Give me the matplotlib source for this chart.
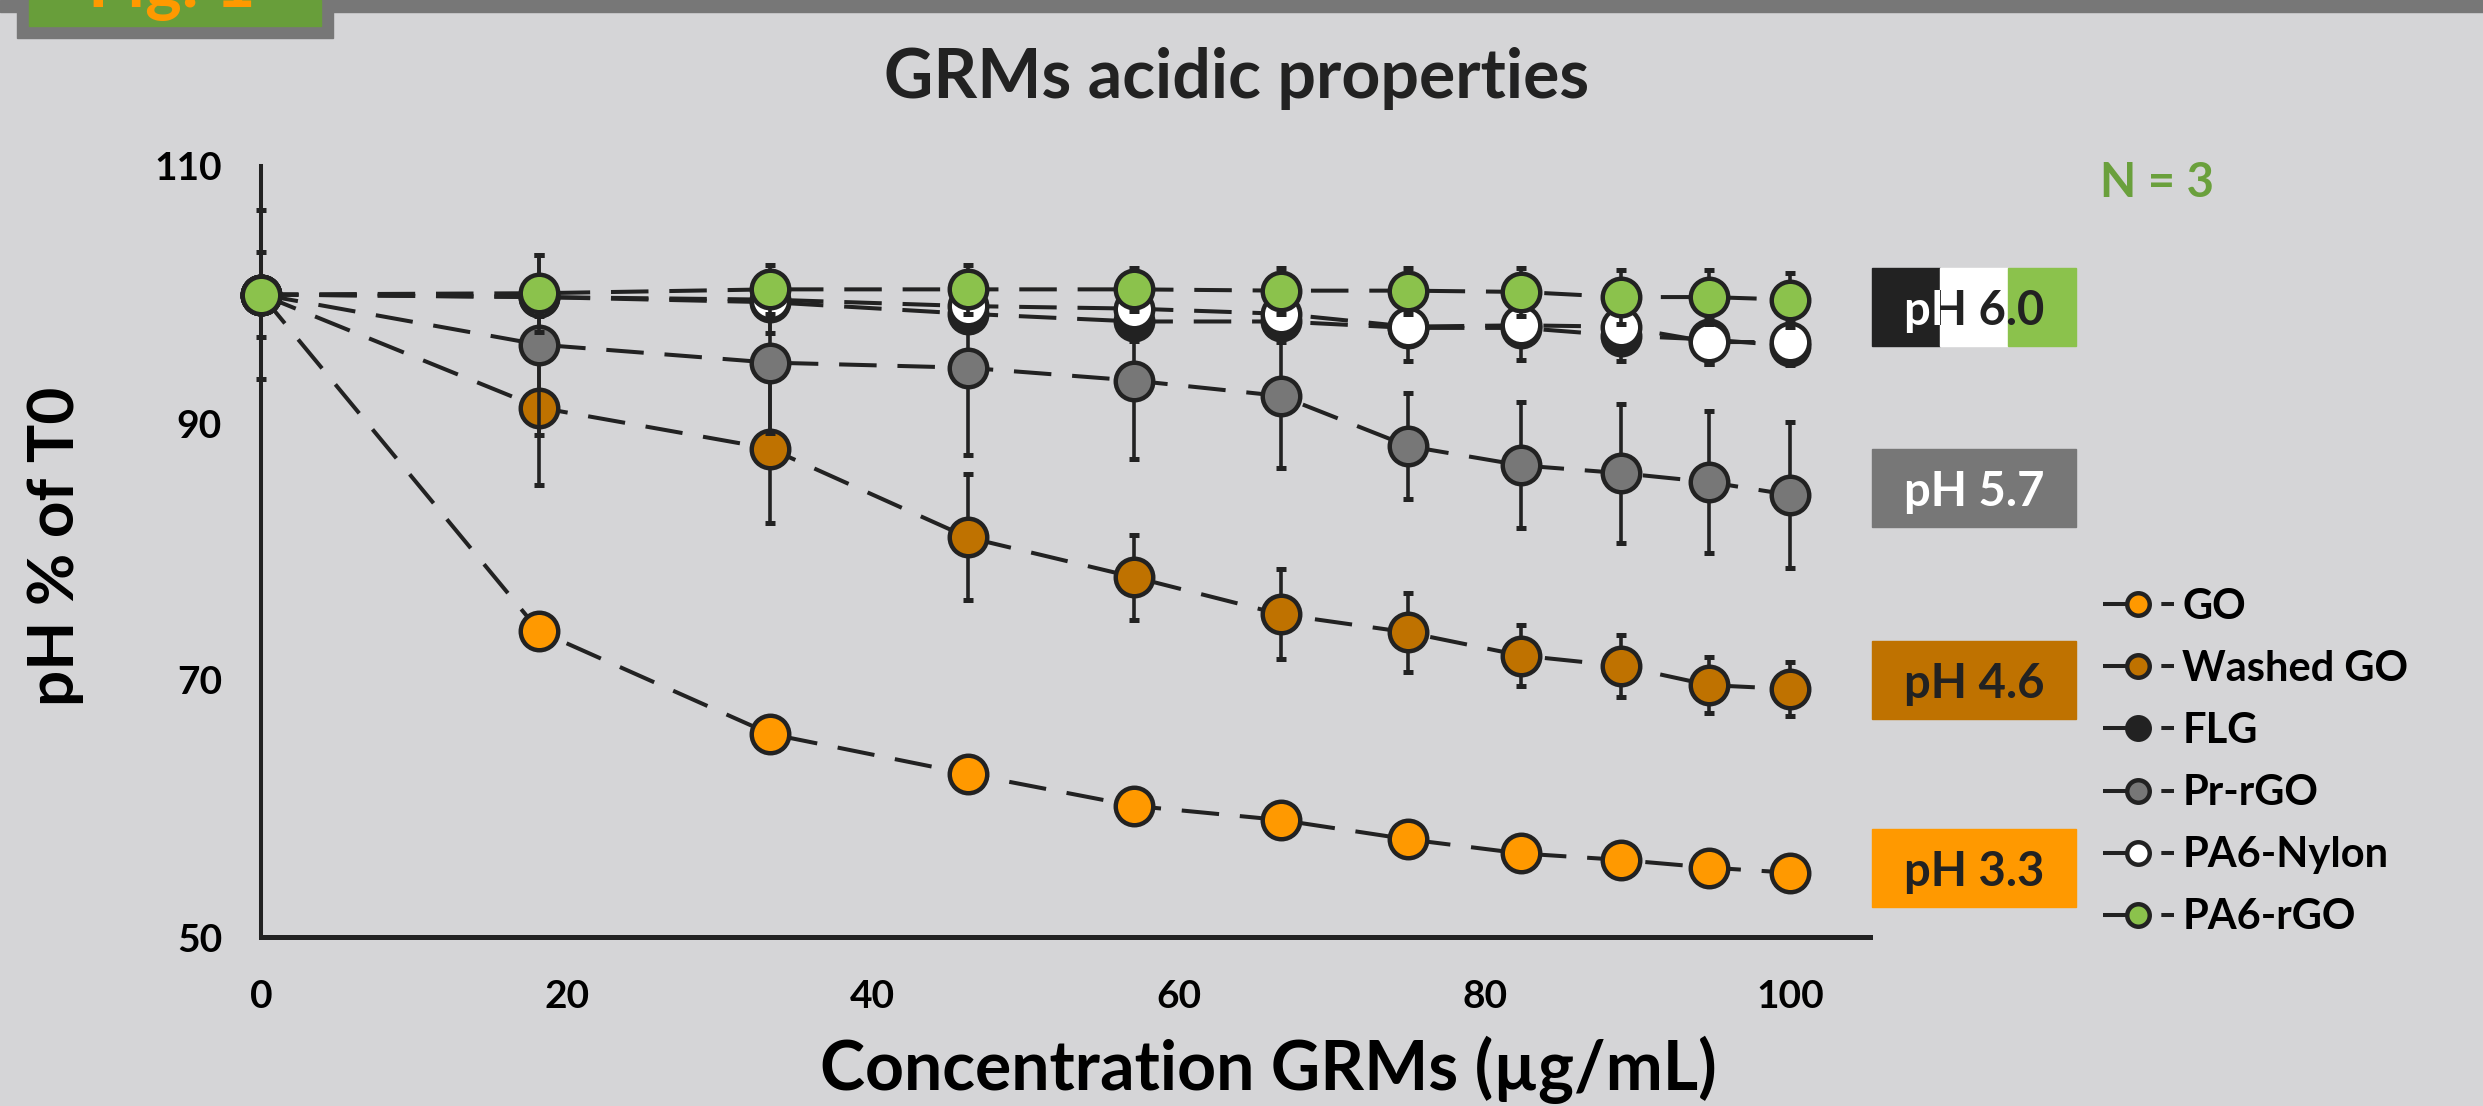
import matplotlib
matplotlib.use("Agg")
import matplotlib.pyplot as plt
from matplotlib.patches import Rectangle

plt.rcParams['font.family'] = ['Lato', 'DejaVu Sans']
plt.rcParams['lines.scale_dashes'] = False

W, H = 2483, 1106

# concentration (ug/mL) and pH as % of T0
conc = [0, 18.2, 33.3, 46.2, 57.1, 66.7, 75.0, 82.4, 88.9, 94.7, 100]

go = [100, 73.8, 65.8, 62.7, 60.2, 59.1, 57.6, 56.5, 56.0, 55.4, 55.0]
washed_go = [100, 91.2, 88.0, 81.1, 78.0, 75.1, 73.7, 71.9, 71.1, 69.6, 69.3]
flg = [100, 99.8, 99.4, 98.5, 97.9, 97.9, 97.4, 97.4, 96.8, 96.5, 96.0]
pr_rgo = [100, 96.1, 94.7, 94.3, 93.3, 92.1, 88.2, 86.7, 86.1, 85.4, 84.4]
pa6_nylon = [100, 99.8, 99.6, 99.1, 98.9, 98.5, 97.5, 97.6, 97.5, 96.3, 96.3]
pa6_rgo = [100, 100.1, 100.4, 100.4, 100.4, 100.3, 100.3, 100.2, 99.8, 99.8, 99.6]

go_err = [0, 0.8, 0.8, 0.7, 0.6, 0.6, 0.6, 0.5, 0.5, 0.5, 0.5]
washed_go_err = [3.3, 6.0, 5.8, 4.9, 3.3, 3.5, 3.1, 2.4, 2.4, 2.2, 2.1]
flg_err = [0, 1.5, 2.4, 1.4, 1.5, 1.6, 2.6, 2.5, 2.0, 1.9, 1.5]
pr_rgo_err = [6.6, 7.0, 5.5, 6.8, 6.1, 5.6, 4.1, 4.9, 5.4, 5.5, 5.7]
pa6_nylon_err = [0, 1.0, 1.0, 1.2, 1.0, 1.5, 1.5, 1.2, 1.3, 1.7, 1.6]
pa6_rgo_err = [0, 3.0, 1.9, 1.9, 1.7, 1.8, 1.8, 1.9, 2.1, 2.1, 2.1]

names = ['GO', 'Washed GO', 'FLG', 'Pr-rGO', 'PA6-Nylon', 'PA6-rGO']
series = [go, washed_go, flg, pr_rgo, pa6_nylon, pa6_rgo]
errors = [go_err, washed_go_err, flg_err, pr_rgo_err, pa6_nylon_err, pa6_rgo_err]
colors = ['#ff9900', '#bf7200', '#222222', '#777777', '#ffffff', '#8bc24c']

ph_labels = ['pH 6.0', 'pH 5.7', 'pH 4.6', 'pH 3.3']

bg = '#d5d5d7'
ink = '#222222'


def fx(x):
    return x / W


def fy(y):
    return 1 - y / H


fig = plt.figure(figsize=(W / 100, H / 100), dpi=100, facecolor=bg)

# header band and the cropped figure tag
fig.patches.append(Rectangle((0, fy(12)), 1, 12 / H, transform=fig.transFigure,
                             color='#777777', zorder=0))
fig.patches.append(Rectangle((fx(17), fy(38)), 316 / W, 38 / H, transform=fig.transFigure,
                             color='#777777', zorder=1))
fig.patches.append(Rectangle((fx(29), fy(26)), 292 / W, 26 / H, transform=fig.transFigure,
                             color='#689e3a', zorder=2))
fig.text(fx(172), fy(7), 'Fig. 1', color='#ff9900', fontsize=50, fontweight='bold',
         ha='center', va='baseline', zorder=3)

ax = fig.add_axes([fx(261), fy(937), (1870 - 261) / W, (937 - 166) / H])
ax.set_facecolor('none')
ax.set_xlim(0, 105.2)
ax.set_ylim(50, 110)
for s in ['top', 'right']:
    ax.spines[s].set_visible(False)
ax.spines['left'].set_linewidth(2.9)
ax.spines['bottom'].set_linewidth(3.6)
ax.spines['left'].set_color(ink)
ax.spines['bottom'].set_color(ink)
ax.set_xticks([0, 20, 40, 60, 80, 100])
ax.set_yticks([50, 70, 90, 110])
ax.tick_params(axis='x', length=0, pad=30, labelsize=28)
ax.tick_params(axis='y', length=0, pad=28, labelsize=28)
for lab in ax.get_xticklabels() + ax.get_yticklabels():
    lab.set_fontweight('bold')

handles = []
for i, (name, ys, err, c) in enumerate(zip(names, series, errors, colors)):
    ax.errorbar(conc, ys, yerr=err, fmt='none', ecolor=ink, elinewidth=2.6,
                capsize=3.6, capthick=3.6, zorder=2 + 2 * i, clip_on=False)
    ln, = ax.plot(conc, ys, color=ink, lw=2.9, linestyle=(0, (27, 15)),
                  marker='o', ms=27, mfc=c, mec=ink, mew=3.2,
                  zorder=3 + 2 * i, clip_on=False, label=name)
    handles.append(ln)

leg = fig.legend(handles=handles, loc='center left',
                 bbox_to_anchor=(fx(2103), fy(762)), frameon=False,
                 fontsize=30, markerscale=0.6, handlelength=1.7,
                 handletextpad=0.2, labelspacing=0.58, borderpad=0,
                 borderaxespad=0)
for t in leg.get_texts():
    t.set_fontweight('bold')

fig.text(fx(1237), fy(98), 'GRMs acidic properties', fontsize=49, fontweight='bold',
         color=ink, ha='center', va='baseline')
fig.text(fx(1268), fy(1090), 'Concentration GRMs (µg/mL)', fontsize=49,
         fontweight='bold', color='black', ha='center', va='baseline')
fig.text(fx(74), fy(546), 'pH % of T0', fontsize=46, fontweight='bold', color='black',
         rotation=90, rotation_mode='anchor', ha='center', va='baseline')
fig.text(fx(2157), fy(197), 'N = 3', fontsize=34, fontweight='bold', color='#6aa03c',
         ha='center', va='baseline')

# pH boxes
x0, x1 = 1872, 2076
box_w = x1 - x0
tops = [268, 449, 641, 829]
box_colors = ['#777777', '#bf7200', '#ff9900']
text_colors = ['white', ink, ink]
for lab, top, bc, tc in zip(ph_labels[1:], tops[1:], box_colors, text_colors):
    fig.patches.append(Rectangle((fx(x0), fy(top + 78)), box_w / W, 78 / H,
                                 transform=fig.transFigure, color=bc, zorder=1))
    fig.text(fx(x0 + box_w / 2), fy(top + 39), lab, fontsize=34, fontweight='bold',
             color=tc, ha='center', va='center_baseline', zorder=2)

# split box for pH 6.0 (FLG / PA6-Nylon / PA6-rGO)
seg = box_w / 3
segs = []
for k, c in enumerate(['#222222', '#ffffff', '#8bc24c']):
    r = Rectangle((fx(x0 + k * seg), fy(tops[0] + 78)), seg / W, 78 / H,
                  transform=fig.transFigure, color=c, zorder=1)
    fig.patches.append(r)
    segs.append(r)
t_light = fig.text(fx(x0 + box_w / 2), fy(tops[0] + 39), ph_labels[0], fontsize=34,
                   fontweight='bold', color='white', ha='center',
                   va='center_baseline', zorder=2)
t_light.set_clip_path(segs[0])
for r in segs[1:]:
    t_dark = fig.text(fx(x0 + box_w / 2), fy(tops[0] + 39), ph_labels[0], fontsize=34,
                      fontweight='bold', color=ink, ha='center',
                      va='center_baseline', zorder=2)
    t_dark.set_clip_path(r)

fig.savefig('out.png', dpi=100, facecolor=bg)
